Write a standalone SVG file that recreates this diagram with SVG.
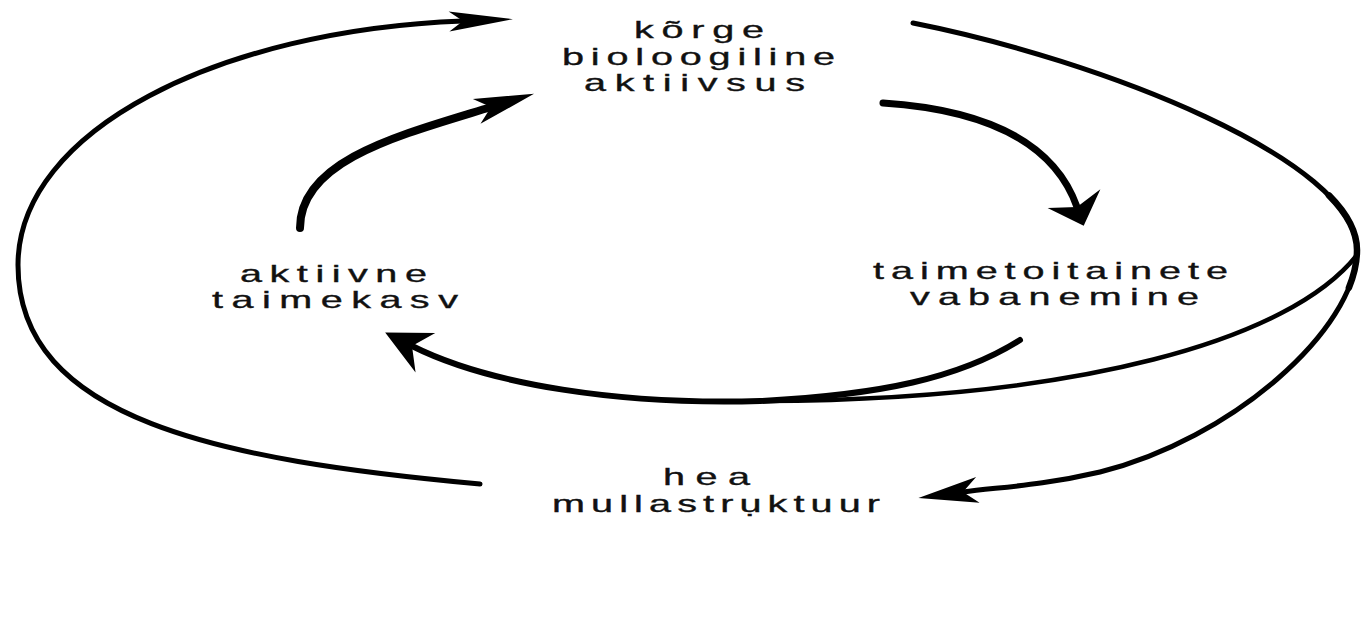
<svg xmlns="http://www.w3.org/2000/svg" width="1362" height="635" viewBox="0 0 1362 635">
<style>
  .lbl { font-family: "Liberation Sans", Arial, sans-serif; font-size: 24px; fill: #111; stroke: #111; stroke-width: 0.35; }
  .c { fill: none; stroke: #000; stroke-linecap: round; stroke-linejoin: round; }
  .head { fill: #000; stroke: none; }
</style>
<defs>
  <marker id="mSlim" markerUnits="userSpaceOnUse" orient="auto" refX="0" refY="0" markerWidth="1" markerHeight="1" overflow="visible">
    <path class="head" d="M50,0 L-14,-10 L0,0 L-14,10 Z"/>
  </marker>
  <marker id="mBig" markerUnits="userSpaceOnUse" orient="auto" refX="0" refY="0" markerWidth="1" markerHeight="1" overflow="visible">
    <path class="head" d="M45,0 L-15,-13 L0,0 L-15,13 Z"/>
  </marker>
  <marker id="mWide" markerUnits="userSpaceOnUse" orient="auto" refX="0" refY="0" markerWidth="1" markerHeight="1" overflow="visible">
    <path class="head" d="M20,0 L-9,-28 L0,0 L-9,28 Z"/>
  </marker>
  <marker id="mLeft" markerUnits="userSpaceOnUse" orient="auto" refX="0" refY="0" markerWidth="1" markerHeight="1" overflow="visible">
    <path class="head" d="M30,0 L-15,-22 L0,0 L-15,22 Z"/>
  </marker>
</defs>
<rect width="1362" height="635" fill="#fff"/>

<g id="connectors">
  <path id="e-outer-left" class="c" stroke-width="5" d="M480 484 C220 460, 18 420, 18 265 C18 130, 220 30, 463 21" marker-end="url(#mSlim)"/>
  <path id="e-inner-up" class="c" stroke-width="8" d="M300 228 C300 160, 400 135, 491 107" marker-end="url(#mBig)"/>
  <path id="e-inner-right" class="c" stroke-width="7" d="M883 103 C990 110, 1055 145, 1077 207" marker-end="url(#mWide)"/>
  <path id="e-outer-right" class="c" stroke-width="5" d="M913 23 C1100 60, 1357 160, 1357 250 C1357 330, 1230 440, 1100 472 C1040 486, 1000 487, 963 492" marker-end="url(#mBig)"/>
  <path id="e-outer-right-thick" class="c" stroke-width="6.5" d="M1329 195.4 C1347 213.6, 1357 232, 1357 250 C1357 262, 1354.2 274.7, 1348.9 287.7"/>
  <path id="e-inner-bottom" class="c" stroke-width="6" d="M1020 340 C960 378, 880 395, 760 401 C620 405, 490 385, 412 346" marker-end="url(#mLeft)"/>
  <path id="e-branch" class="c" stroke-width="4.5" d="M1357 255 C1290 340, 1080 400, 760 401"/>
</g>

<g id="n-korge">
  <text class="lbl" transform="translate(634,38) scale(1.65,1)" letter-spacing="4.7">kõrge</text>
  <text class="lbl" transform="translate(562,65) scale(1.65,1)" letter-spacing="4.13">bioloogiline</text>
  <text class="lbl" transform="translate(584,91) scale(1.65,1)" letter-spacing="5.24">aktiivsus</text>
</g>

<g id="n-taimekasv">
  <text class="lbl" transform="translate(240,282) scale(1.65,1)" letter-spacing="4.56">aktiivne</text>
  <text class="lbl" transform="translate(212,308) scale(1.65,1)" letter-spacing="5.13">taimekasv</text>
</g>

<g id="n-vabanemine">
  <text class="lbl" transform="translate(873,279) scale(1.65,1)" letter-spacing="4.22">taimetoitainete</text>
  <text class="lbl" transform="translate(910,305) scale(1.65,1)" letter-spacing="4.94">vabanemine</text>
</g>

<g id="n-mullastruktuur">
  <text class="lbl" transform="translate(663,485) scale(1.65,1)" letter-spacing="6.35">hea</text>
  <text class="lbl" transform="translate(552,512) scale(1.65,1)" letter-spacing="3.7">mullastrụktuur</text>
</g>
</svg>
